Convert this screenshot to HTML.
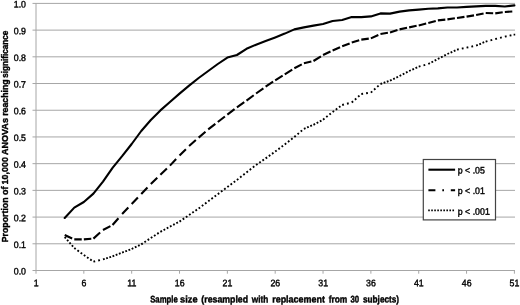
<!DOCTYPE html>
<html lang="en"><head><meta charset="utf-8"><title>Chart</title>
<style>html,body{margin:0;padding:0;background:#fff}svg{display:block}text{font-family:"Liberation Sans",sans-serif;fill:#000;stroke:#000;stroke-width:.4px}</style></head><body>
<svg width="520" height="305" viewBox="0 0 520 305">
<rect width="520" height="305" fill="#fff"/>
<path d="M32.5 3.4H515M32.5 30.11H515M32.5 56.82H515M32.5 83.53H515M32.5 110.24H515M32.5 136.95H515M32.5 163.66H515M32.5 190.37H515M32.5 217.08H515M32.5 243.79H515M32.5 270.5H515M36 3.4V273.7M83.84 270.5V273.7M131.68 270.5V273.7M179.52 270.5V273.7M227.36 270.5V273.7M275.2 270.5V273.7M323.04 270.5V273.7M370.88 270.5V273.7M418.72 270.5V273.7M466.56 270.5V273.7M514.4 270.5V273.7" fill="none" stroke="#a6a6a6" stroke-width="1"/>
<polyline points="64.7,218 74.27,207.6 83.84,202 93.41,193.6 102.98,181.6 112.54,167.8 122.11,156.2 131.68,144 141.25,131 150.82,120 160.38,110.4 169.95,102 179.52,93.6 189.09,85.6 198.66,78 208.22,71 217.79,64 227.36,57.6 236.93,55 246.5,48.8 256.06,44.7 265.63,41 275.2,37.4 284.77,33.6 294.34,29.4 303.9,27.4 313.47,25.6 323.04,24 332.61,21 342.18,20 351.74,17 361.31,17.1 370.88,16.4 380.45,13.4 390.02,13.6 399.58,11.6 409.15,10.4 418.72,9.6 428.29,8.8 437.86,8.4 447.42,7.5 456.99,7.5 466.56,6.9 476.13,6.4 485.7,5.9 495.26,5.9 504.83,6.5 514.4,5.4" fill="none" stroke="#000" stroke-width="2.1" stroke-linejoin="round" stroke-linecap="round"/>
<path d="M64.7 235L72.17 238.43M74.27 239.4L81.74 239.4M83.84 239.4L91.3 238.78M93.41 238.6L100.1 232.58M102.98 230L110.44 226.1M112.54 225L118.45 218.21M122.11 214L128.33 207.5M131.68 204L137.9 197.5M141.25 194L147.47 187.5M150.82 184L157.27 177.73M160.38 174.7L166.91 168.5M169.95 165.6L176.14 159.07M179.52 155.5L185.91 149.16M189.09 146L195.85 140.06M198.66 137.6L205.49 131.74M208.22 129.4L215.34 123.89M217.79 122L224.91 116.49M227.36 114.6L234.55 109.19M236.93 107.4L244.26 102.19M246.5 100.6L253.72 95.24M256.06 93.5L263.4 88.29M265.63 86.7L273.1 81.71M275.2 80.3L282.66 75.7M284.77 74.4L292.23 69.64M294.34 68.3L301.8 64.4M303.9 63.3L311.37 61.51M313.47 61L320.94 56.32M323.04 55L330.5 51.49M332.61 50.5L340.07 47.22M342.18 46.3L349.64 43.41M351.74 42.6L359.21 40.26M361.31 39.6L368.78 38.66M370.88 38.4L378.34 34.97M380.45 34L387.91 32.75M390.02 32.4L397.48 30.06M399.58 29.4L407.05 27.84M409.15 27.4L416.62 25.84M418.72 25.4L426.18 23.53M428.29 23L435.75 20.97M437.86 20.4L445.32 19.62M447.42 19.4L454.89 18.31M456.99 18L464.46 16.91M466.56 16.6L474.02 15.35M476.13 15L483.59 13.44M485.7 13L493.16 13.31M495.26 13.4L502.73 12.31M504.83 12L512.3 11.53" fill="none" stroke="#000" stroke-width="2.1"/>
<path d="M64.7 237L65.89 238.36M67.1 239.75L68.28 241.11M69.49 242.5L70.67 243.86M71.88 245.25L73.06 246.61M74.27 248L75.72 249.06M77.46 250.33L78.91 251.4M80.65 252.67L82.1 253.73M83.84 255L85.32 256.02M87.03 257.2L88.51 258.22M90.22 259.4L91.7 260.42M93.41 261.6L95.16 261.2M98.19 260.5L99.95 260.1M102.98 259.4L104.69 258.86M106.17 258.4L107.88 257.86M109.35 257.4L111.07 256.86M112.54 256.4L114.22 255.74M115.73 255.13L117.41 254.47M118.92 253.87L120.6 253.2M122.11 252.6L123.8 251.97M125.3 251.4L126.99 250.77M128.49 250.2L130.18 249.57M131.68 249L133.3 248.22M134.87 247.47L136.49 246.69M138.06 245.93L139.68 245.15M141.25 244.4L142.74 243.4M144.44 242.27L145.93 241.27M147.63 240.13L149.12 239.13M150.82 238L152.33 237.02M154.01 235.93L155.52 234.95M157.19 233.87L158.71 232.89M160.38 231.8L161.97 230.94M163.57 230.07L165.15 229.21M166.76 228.33L168.34 227.47M169.95 226.6L171.55 225.77M173.14 224.93L174.74 224.1M176.33 223.27L177.93 222.43M179.52 221.6L181 220.58M182.71 219.4L184.19 218.38M185.9 217.2L187.38 216.18M189.09 215L190.58 213.99M192.28 212.83L193.77 211.82M195.47 210.67L196.96 209.66M198.66 208.5L200.09 207.42M201.85 206.1L203.28 205.02M205.03 203.7L206.47 202.62M208.22 201.3L209.67 200.23M211.41 198.93L212.86 197.86M214.6 196.57L216.05 195.49M217.79 194.2L219.23 193.12M220.98 191.8L222.42 190.72M224.17 189.4L225.61 188.32M227.36 187L228.81 185.94M230.55 184.67L232 183.6M233.74 182.33L235.19 181.27M236.93 180L238.34 178.88M240.12 177.47L241.53 176.35M243.31 174.93L244.72 173.81M246.5 172.4L247.92 171.3M249.69 169.93L251.11 168.83M252.87 167.47L254.3 166.37M256.06 165L257.55 163.98M259.25 162.8L260.74 161.78M262.44 160.6L263.92 159.58M265.63 158.4L267.1 157.36M268.82 156.13L270.29 155.09M272.01 153.87L273.48 152.82M275.2 151.6L276.64 150.52M278.39 149.2L279.83 148.12M281.58 146.8L283.02 145.72M284.77 144.4L286.19 143.3M287.96 141.93L289.38 140.83M291.15 139.47L292.57 138.37M294.34 137L295.7 135.83M297.53 134.27L298.89 133.1M300.71 131.53L302.08 130.36M303.9 128.8L305.56 128.11M307.09 127.47L308.75 126.77M310.28 126.13L311.94 125.44M313.47 124.8L315.06 123.95M316.66 123.1L318.25 122.25M319.85 121.4L321.44 120.55M323.04 119.7L324.44 118.57M326.23 117.13L327.63 116M329.42 114.57L330.82 113.44M332.61 112L334.06 110.94M335.8 109.67L337.25 108.6M338.99 107.33L340.44 106.27M342.18 105L343.92 104.54M346.96 103.75L348.7 103.29M351.74 102.5L353.09 101.3M354.93 99.67L356.28 98.47M358.12 96.83L359.47 95.64M361.31 94L363.09 93.74M366.1 93.3L367.88 93.04M370.88 92.6L372.22 91.4M374.07 89.73L375.41 88.53M377.26 86.87L378.6 85.66M380.45 84L382.14 83.4M383.64 82.87L385.33 82.26M386.83 81.73L388.52 81.13M390.02 80.6L391.64 79.82M393.21 79.07L394.83 78.29M396.39 77.53L398.02 76.75M399.58 76L401.18 75.17M402.77 74.33L404.37 73.5M405.96 72.67L407.56 71.83M409.15 71L410.79 70.25M412.34 69.53L413.98 68.78M415.53 68.07L417.17 67.31M418.72 66.6L420.46 66.13M423.5 65.3L425.24 64.83M428.29 64L429.88 63.17M431.48 62.33L433.07 61.5M434.67 60.67L436.26 59.83M437.86 59L439.45 58.17M441.05 57.33L442.64 56.5M444.23 55.67L445.83 54.83M447.42 54L449.06 53.25M450.61 52.53L452.25 51.78M453.8 51.07L455.44 50.31M456.99 49.6L458.75 49.23M461.78 48.6L463.54 48.23M466.56 47.6L468.32 47.23M471.34 46.6L473.11 46.23M476.13 45.6L477.79 44.91M479.32 44.27L480.98 43.57M482.51 42.93L484.17 42.24M485.7 41.6L487.43 41.13M490.48 40.3L492.22 39.83M495.26 39L497.01 38.56M500.05 37.8L501.79 37.36M504.83 36.6L506.59 36.23M509.62 35.6L511.38 35.23M513.6 34.6h1.6" fill="none" stroke="#000" stroke-width="1.9"/>
<text transform="translate(26 7.5) rotate(.05) scale(.925 1)" font-size="9.5" text-anchor="end">1.0</text>
<text transform="translate(26 34.21) rotate(.05) scale(.925 1)" font-size="9.5" text-anchor="end">0.9</text>
<text transform="translate(26 60.92) rotate(.05) scale(.925 1)" font-size="9.5" text-anchor="end">0.8</text>
<text transform="translate(26 87.63) rotate(.05) scale(.925 1)" font-size="9.5" text-anchor="end">0.7</text>
<text transform="translate(26 114.34) rotate(.05) scale(.925 1)" font-size="9.5" text-anchor="end">0.6</text>
<text transform="translate(26 141.05) rotate(.05) scale(.925 1)" font-size="9.5" text-anchor="end">0.5</text>
<text transform="translate(26 167.76) rotate(.05) scale(.925 1)" font-size="9.5" text-anchor="end">0.4</text>
<text transform="translate(26 194.47) rotate(.05) scale(.925 1)" font-size="9.5" text-anchor="end">0.3</text>
<text transform="translate(26 221.18) rotate(.05) scale(.925 1)" font-size="9.5" text-anchor="end">0.2</text>
<text transform="translate(26 247.89) rotate(.05) scale(.925 1)" font-size="9.5" text-anchor="end">0.1</text>
<text transform="translate(26 274.6) rotate(.05) scale(.925 1)" font-size="9.5" text-anchor="end">0.0</text>
<text transform="translate(36.1 286.3) rotate(.05) scale(.925 1)" font-size="9.5" text-anchor="middle">1</text>
<text transform="translate(83.94 286.3) rotate(.05) scale(.925 1)" font-size="9.5" text-anchor="middle">6</text>
<text transform="translate(131.78 286.3) rotate(.05) scale(.925 1)" font-size="9.5" text-anchor="middle">11</text>
<text transform="translate(179.62 286.3) rotate(.05) scale(.925 1)" font-size="9.5" text-anchor="middle">16</text>
<text transform="translate(227.46 286.3) rotate(.05) scale(.925 1)" font-size="9.5" text-anchor="middle">21</text>
<text transform="translate(275.3 286.3) rotate(.05) scale(.925 1)" font-size="9.5" text-anchor="middle">26</text>
<text transform="translate(323.14 286.3) rotate(.05) scale(.925 1)" font-size="9.5" text-anchor="middle">31</text>
<text transform="translate(370.98 286.3) rotate(.05) scale(.925 1)" font-size="9.5" text-anchor="middle">36</text>
<text transform="translate(418.82 286.3) rotate(.05) scale(.925 1)" font-size="9.5" text-anchor="middle">41</text>
<text transform="translate(466.66 286.3) rotate(.05) scale(.925 1)" font-size="9.5" text-anchor="middle">46</text>
<text transform="translate(514.5 286.3) rotate(.05) scale(.925 1)" font-size="9.5" text-anchor="middle">51</text>
<text transform="translate(150.2 302.4) rotate(.05)" font-size="9.7" font-weight="bold" stroke-width=".6" textLength="27.5" lengthAdjust="spacingAndGlyphs">Sample</text>
<text transform="translate(180.1 302.4) rotate(.05)" font-size="9.7" font-weight="bold" stroke-width=".6" textLength="17.4" lengthAdjust="spacingAndGlyphs">size</text>
<text transform="translate(201.3 302.4) rotate(.05)" font-size="9.7" font-weight="bold" stroke-width=".6" textLength="46.8" lengthAdjust="spacingAndGlyphs">(resampled</text>
<text transform="translate(251.8 302.4) rotate(.05)" font-size="9.7" font-weight="bold" stroke-width=".6" textLength="16.5" lengthAdjust="spacingAndGlyphs">with</text>
<text transform="translate(272.2 302.4) rotate(.05)" font-size="9.7" font-weight="bold" stroke-width=".6" textLength="52.7" lengthAdjust="spacingAndGlyphs">replacement</text>
<text transform="translate(328.7 302.4) rotate(.05)" font-size="9.7" font-weight="bold" stroke-width=".6" textLength="18.6" lengthAdjust="spacingAndGlyphs">from</text>
<text transform="translate(350.5 302.4) rotate(.05)" font-size="9.7" font-weight="bold" stroke-width=".6" textLength="8.7" lengthAdjust="spacingAndGlyphs">30</text>
<text transform="translate(363 302.4) rotate(.05)" font-size="9.7" font-weight="bold" stroke-width=".6" textLength="36.1" lengthAdjust="spacingAndGlyphs">subjects)</text>
<text transform="translate(7.7 242.3) rotate(-90)" font-size="9.7" font-weight="bold" stroke-width=".6" textLength="44.9" lengthAdjust="spacingAndGlyphs">Proportion</text>
<text transform="translate(7.7 194.9) rotate(-90)" font-size="9.7" font-weight="bold" stroke-width=".6" textLength="8.5" lengthAdjust="spacingAndGlyphs">of</text>
<text transform="translate(7.7 184.6) rotate(-90)" font-size="9.7" font-weight="bold" stroke-width=".6" textLength="27.5" lengthAdjust="spacingAndGlyphs">10,000</text>
<text transform="translate(7.7 155) rotate(-90)" font-size="9.7" font-weight="bold" stroke-width=".6" textLength="36.9" lengthAdjust="spacingAndGlyphs">ANOVAs</text>
<text transform="translate(7.7 115.8) rotate(-90)" font-size="9.7" font-weight="bold" stroke-width=".6" textLength="36.4" lengthAdjust="spacingAndGlyphs">reaching</text>
<text transform="translate(7.7 77.8) rotate(-90)" font-size="9.7" font-weight="bold" stroke-width=".6" textLength="47.2" lengthAdjust="spacingAndGlyphs">significance</text>
<rect x="423.3" y="159.5" width="72.2" height="60.4" fill="#fff" stroke="#444" stroke-width="1.2"/>
<path d="M428.4 169.7H455.1" stroke="#000" stroke-width="2.1"/>
<path d="M428.4 190.2H435.4M442.3 190.2H444M450.8 190.2H455.1" stroke="#000" stroke-width="1.9"/>
<path d="M428.2 210.4H455.1" stroke="#000" stroke-width="1.7" stroke-dasharray="1.6 1.43"/>
<text transform="translate(457.8 173.5) rotate(.05) scale(.925 1)" font-size="9.5">p &lt; .05</text>
<text transform="translate(457.8 194.1) rotate(.05) scale(.925 1)" font-size="9.5">p &lt; .01</text>
<text transform="translate(457.8 214.8) rotate(.05) scale(.925 1)" font-size="9.5">p &lt; .001</text>
</svg></body></html>
